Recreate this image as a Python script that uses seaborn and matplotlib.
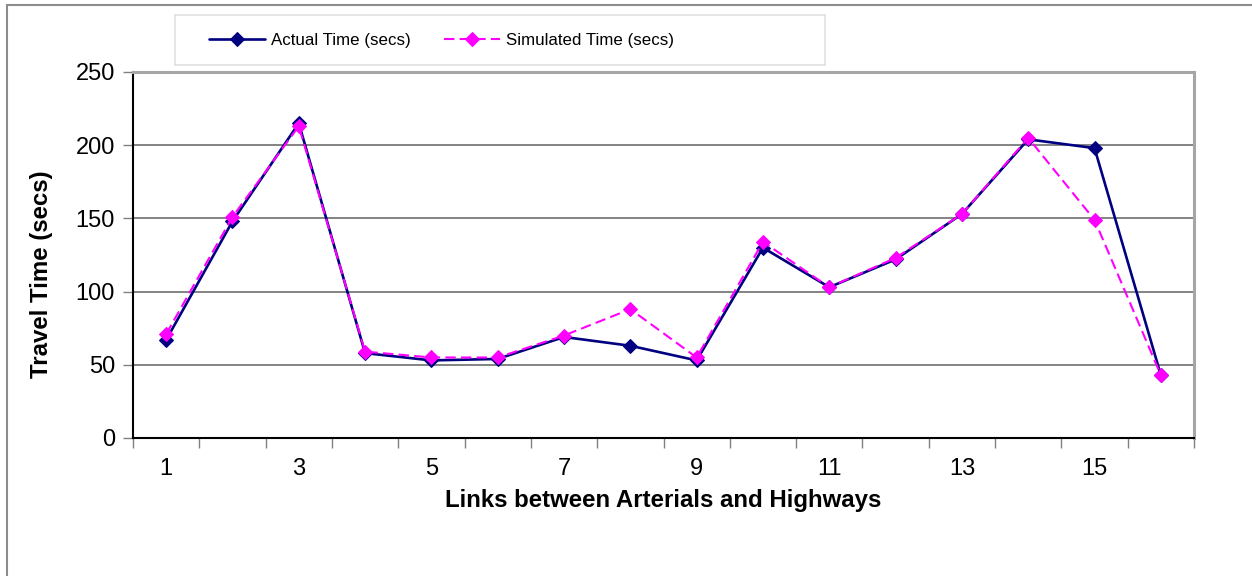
import matplotlib
matplotlib.use("Agg")
import matplotlib.pyplot as plt
from matplotlib.patches import Rectangle
import seaborn as sns

# Travel time per link (seconds)
links = list(range(1, 17))
actual_time = [67, 148, 215, 58, 53, 54, 69, 63, 53, 130, 103, 122, 153, 204, 198, 43]
simulated_time = [71, 151, 213, 59, 55, 55, 70, 88, 55, 134, 103, 123, 153, 205, 149, 43]
tick_labels = ["1", "3", "5", "7", "9", "11", "13", "15"]
y_ticks = [0, 50, 100, 150, 200, 250]

sns.set_theme(style="white")
plt.rcParams["font.family"] = ["Liberation Sans", "DejaVu Sans"]
plt.rcParams.update({"text.color": "black", "axes.labelcolor": "black",
                     "xtick.labelcolor": "black", "ytick.labelcolor": "black"})

W, H = 1252, 576
fig = plt.figure(figsize=(W / 100, H / 100), dpi=100)
fig.patch.set_facecolor("white")

# plot area in pixel units
left, right, top, bottom = 133, 1194, 72, 438
ax = fig.add_axes([left / W, 1 - bottom / H, (right - left) / W, (bottom - top) / H])

sns.lineplot(x=links, y=actual_time, ax=ax, color="#000080", linewidth=1.9,
             marker="D", markersize=7, markeredgecolor="#000080",
             markerfacecolor="#000080", label="Actual Time (secs)")
sns.lineplot(x=links, y=simulated_time, ax=ax, color="#FF00FF", linewidth=1.5,
             marker="D", markersize=7, markeredgecolor="#FF00FF",
             markerfacecolor="#FF00FF", label="Simulated Time (secs)")
ax.lines[-1].set_dashes([5, 2.5])

ax.set_xlim(0.5, 16.5)
ax.set_ylim(0, 250)

# y axis
ax.set_yticks(y_ticks)
ax.set_yticklabels([str(v) for v in y_ticks])
ax.tick_params(axis="y", which="major", length=7, width=1, color="#808080",
               labelcolor="black", labelsize=17, pad=6, left=True)
for v in y_ticks[1:-1]:
    ax.axhline(v, color="#6e6e6e", linewidth=1.2, zorder=0)

# x axis: labels on odd links, tick marks on category boundaries
ax.set_xticks([1, 3, 5, 7, 9, 11, 13, 15])
ax.set_xticklabels(tick_labels)
ax.set_xticks([x + 0.5 for x in range(0, 17)], minor=True)
ax.tick_params(axis="x", which="major", length=0, labelsize=17, pad=14.5,
               labelcolor="black")
ax.tick_params(axis="x", which="minor", length=7, width=1, color="#808080",
               bottom=True)

ax.set_xlabel("Links between Arterials and Highways", fontsize=17.3,
              fontweight="bold", labelpad=6.5, color="black")
ax.set_ylabel("Travel Time (secs)", fontsize=17.3, fontweight="bold", color="black")
ax.yaxis.set_label_coords((53 - left) / (right - left), (bottom - 274) / (bottom - top))

for side in ["left", "bottom"]:
    ax.spines[side].set_color("black")
    ax.spines[side].set_linewidth(1.5)
for side in ["top", "right"]:
    ax.spines[side].set_color("#a6a6a6")
    ax.spines[side].set_linewidth(2.2)

# legend above the plot, inside a light box
handles, labels = ax.get_legend_handles_labels()
ax.get_legend().remove()
leg = fig.legend(handles, labels, loc="center left", ncol=2, frameon=False,
                 bbox_to_anchor=(209 / W, 1 - 40 / H), borderpad=0, borderaxespad=0,
                 fontsize=12.2, handlelength=3.3, handletextpad=0.35,
                 columnspacing=2.0)
for t in leg.get_texts():
    t.set_color("black")
fig.patches.append(Rectangle((175 / W, 1 - 65 / H), 650 / W, 50 / H,
                             transform=fig.transFigure, fill=False,
                             edgecolor="#e0e0e0", linewidth=1.2))

# outer chart frame
fig.patches.append(Rectangle((7 / W, -0.05), 1.1, 1 - 5 / H + 0.05,
                             transform=fig.transFigure, fill=False,
                             edgecolor="#8c8c8c", linewidth=1.5))

fig.savefig("out.png", dpi=100)
